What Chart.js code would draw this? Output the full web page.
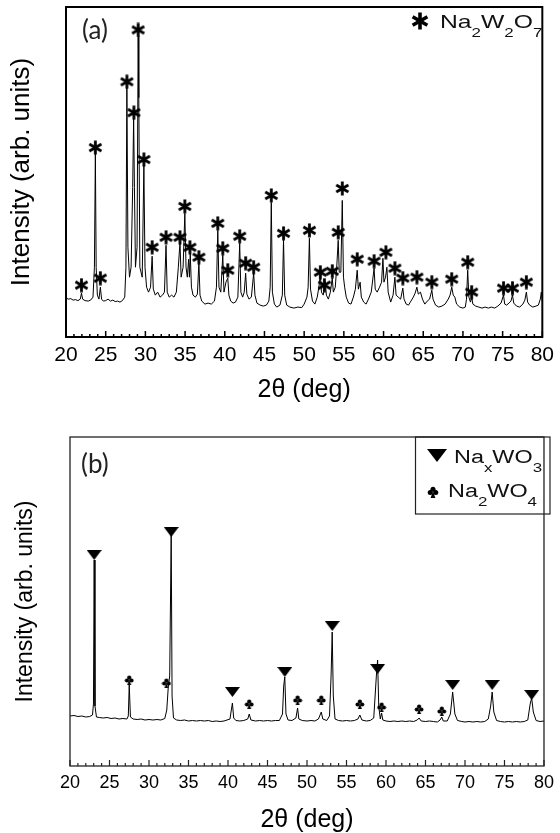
<!DOCTYPE html>
<html>
<head>
<meta charset="utf-8">
<script src="https://cdn.jsdelivr.net/npm/chart.js@4.4.1/dist/chart.umd.min.js"></script>
<style>
  body { margin: 0; background: #fff; width: 560px; height: 833px; position: relative; overflow: hidden; }
  canvas { position: absolute; left: 0; }
  #chartA { top: 0; }
  #chartB { top: 415px; }
</style>
</head>
<body>
<canvas id="chartA" width="560" height="415"></canvas>
<canvas id="chartB" width="560" height="418"></canvas>
<script>
// panel (a): Na2W2O7 pattern
const twoThetaA = [20.00, 20.30, 20.60, 20.90, 21.20, 21.50, 21.80, 21.95, 22.10, 22.40, 22.80, 23.10, 23.40, 23.58, 23.70, 23.80, 23.95, 24.15, 24.33, 24.48,
  24.70, 25.00, 25.30, 25.60, 25.90, 26.20, 26.50, 26.80, 27.10, 27.40, 27.55, 27.67, 27.80, 28.00, 28.20, 28.40, 28.52, 28.62, 28.75, 28.95,
  29.09, 29.17, 29.30, 29.60, 29.81, 29.95, 30.15, 30.40, 30.65, 30.85, 31.00, 31.25, 31.55, 31.85, 32.15, 32.40, 32.60, 32.75, 33.00, 33.30,
  33.60, 33.90, 34.15, 34.36, 34.50, 34.75, 34.97, 35.12, 35.28, 35.45, 35.55, 35.65, 35.80, 36.00, 36.30, 36.55, 36.74, 36.88, 37.10, 37.50,
  37.90, 38.30, 38.70, 38.95, 39.12, 39.27, 39.50, 39.75, 39.90, 40.15, 40.38, 40.52, 40.75, 41.05, 41.35, 41.65, 41.88, 42.03, 42.25, 42.45,
  42.63, 42.78, 43.05, 43.35, 43.64, 43.80, 44.05, 44.45, 44.85, 45.25, 45.55, 45.72, 45.86, 46.00, 46.25, 46.55, 46.95, 47.25, 47.40, 47.55,
  47.80, 48.20, 48.70, 49.20, 49.70, 50.00, 50.35, 50.50, 50.66, 50.80, 51.05, 51.35, 51.65, 51.85, 52.04, 52.18, 52.40, 52.66, 52.80, 53.05,
  53.30, 53.54, 53.68, 53.92, 54.10, 54.29, 54.42, 54.62, 54.80, 54.95, 55.10, 55.30, 55.60, 55.90, 56.20, 56.45, 56.68, 56.83, 57.05, 57.20,
  57.50, 57.80, 58.10, 58.45, 58.81, 58.95, 59.20, 59.50, 59.75, 59.92, 60.05, 60.25, 60.42, 60.58, 60.90, 61.20, 61.43, 61.58, 61.85, 62.15,
  62.43, 62.58, 62.85, 63.15, 63.45, 63.75, 63.98, 64.20, 64.38, 64.65, 64.90, 65.20, 65.50, 65.80, 66.08, 66.23, 66.55, 66.95, 67.35, 67.75,
  68.15, 68.38, 68.59, 68.78, 68.98, 69.20, 69.60, 70.00, 70.30, 70.45, 70.60, 70.75, 70.95, 71.10, 71.25, 71.60, 72.00, 72.40, 72.80, 73.20,
  73.60, 74.00, 74.40, 74.80, 75.11, 75.26, 75.50, 75.80, 76.05, 76.24, 76.40, 76.75, 77.15, 77.55, 77.80, 77.99, 78.15, 78.40, 78.80, 79.20,
  79.50, 79.75, 79.87, 80.00];
const countsA = [390, 380, 385, 370, 375, 365, 380, 440, 380, 365, 360, 370, 400, 700, 1840, 700, 420, 380, 500, 380,
  360, 365, 380, 360, 370, 355, 360, 350, 365, 400, 700, 2500, 900, 600, 700, 1500, 2190, 1500, 700, 900,
  3020, 2400, 700, 600, 1720, 700, 500, 450, 500, 810, 480, 420, 450, 400, 420, 450, 920, 450, 400, 420,
  400, 450, 700, 950, 600, 700, 1240, 700, 600, 780, 600, 840, 500, 420, 400, 430, 740, 420, 360, 330,
  340, 330, 360, 500, 1070, 500, 450, 820, 450, 550, 590, 420, 360, 340, 350, 400, 940, 450, 400, 450,
  640, 430, 380, 400, 640, 420, 340, 320, 310, 320, 360, 500, 1350, 450, 330, 300, 320, 420, 970, 420,
  320, 300, 290, 300, 295, 330, 400, 500, 990, 480, 360, 330, 400, 500, 620, 450, 420, 550, 420, 380,
  450, 590, 450, 500, 700, 970, 650, 650, 1370, 600, 500, 400, 340, 330, 400, 480, 670, 480, 550, 400,
  350, 330, 380, 450, 690, 480, 450, 500, 550, 790, 550, 600, 700, 450, 350, 420, 600, 420, 400, 380,
  490, 380, 330, 320, 360, 400, 440, 500, 430, 450, 380, 330, 360, 380, 470, 380, 320, 300, 310, 330,
  380, 420, 500, 420, 400, 330, 300, 290, 300, 380, 670, 400, 350, 400, 330, 310, 300, 290, 300, 290,
  300, 290, 310, 340, 420, 330, 320, 340, 360, 420, 340, 310, 300, 330, 370, 450, 350, 320, 300, 310,
  320, 380, 450, 360];
const starTheta = [21.95, 23.70, 24.33, 27.67, 28.55, 29.09, 29.81, 30.85, 32.60, 34.36, 34.97, 35.61, 36.74, 39.12, 39.75, 40.38, 41.88, 42.63, 43.64, 45.86,
  47.40, 50.66, 52.04, 52.55, 53.54, 54.29, 54.80, 56.68, 58.81, 60.30, 61.43, 62.43, 64.20, 66.08, 68.59, 70.60, 71.10, 75.11, 76.24, 77.99];
const starCounts = [520, 1900, 590, 2560, 2250, 3080, 1780, 900, 1000, 1000, 1310, 900, 800, 1140, 890, 670, 1010, 740, 700, 1420,
  1040, 1070, 650, 520, 660, 1050, 1490, 780, 760, 850, 690, 590, 600, 550, 580, 750, 450, 490, 490, 550];

// panel (b): NaxWO3 + Na2WO4 pattern
const twoThetaB = [20.0, 20.5, 21.0, 21.5, 22.0, 22.5, 22.85, 22.97, 23.06, 23.16, 23.35, 23.7, 24.2, 24.7, 25.2, 25.7, 26.2, 26.7, 27.2, 27.38,
  27.5, 27.65, 28.0, 28.5, 29.0, 29.5, 30.0, 30.5, 31.0, 31.5, 32.0, 32.25, 32.44, 32.62, 32.72, 32.81, 32.92, 33.1, 33.5, 34.0,
  34.5, 35.0, 35.5, 36.0, 36.5, 37.0, 37.5, 38.0, 38.5, 39.0, 39.5, 40.25, 40.42, 40.56, 40.72, 41.0, 41.5, 42.0, 42.5, 42.69,
  42.9, 43.5, 44.0, 44.5, 45.0, 45.5, 46.0, 46.5, 46.9, 47.05, 47.19, 47.34, 47.6, 48.1, 48.6, 48.81, 48.97, 49.4, 50.0, 50.5,
  51.0, 51.45, 51.81, 52.0, 52.5, 52.85, 53.05, 53.19, 53.33, 53.55, 54.0, 54.5, 55.0, 55.5, 56.0, 56.45, 56.69, 56.95, 57.5, 58.0,
  58.45, 58.78, 58.94, 59.08, 59.28, 59.44, 59.6, 60.0, 60.5, 61.0, 61.5, 62.0, 62.5, 63.0, 63.5, 63.95, 64.19, 64.45, 65.0, 65.5,
  66.0, 66.5, 66.85, 67.06, 67.25, 67.75, 68.15, 68.44, 68.72, 69.05, 69.6, 70.0, 70.5, 71.0, 71.5, 72.0, 72.5, 72.95, 73.25, 73.44,
  73.65, 74.0, 74.5, 75.0, 75.5, 76.0, 76.5, 77.0, 77.5, 77.95, 78.25, 78.44, 78.65, 79.0, 79.5, 80.0];
const countsB = [500, 505, 495, 500, 490, 495, 510, 620, 2060, 600, 490, 485, 480, 485, 475, 480, 470, 475, 470, 500,
  810, 490, 470, 465, 470, 460, 465, 460, 465, 460, 475, 560, 790, 900, 1650, 2330, 700, 480, 460, 455,
  460, 450, 455, 450, 455, 450, 455, 445, 450, 445, 450, 470, 560, 630, 480, 455, 450, 455, 470, 520,
  460, 450, 455, 450, 455, 450, 455, 455, 520, 800, 890, 520, 460, 455, 480, 580, 470, 455, 450, 455,
  450, 470, 540, 470, 455, 500, 900, 1340, 700, 470, 455, 450, 455, 450, 455, 470, 510, 460, 450, 455,
  480, 900, 1060, 600, 470, 530, 460, 450, 445, 450, 445, 450, 445, 450, 445, 460, 480, 450, 445, 450,
  445, 440, 460, 490, 450, 450, 520, 740, 520, 455, 445, 440, 445, 440, 445, 440, 445, 470, 600, 740,
  540, 455, 445, 440, 445, 440, 445, 440, 445, 460, 620, 680, 540, 455, 445, 450];
const triTheta = [23.06, 32.81, 40.56, 47.19, 53.19, 58.94, 68.44, 73.44, 78.44];
const triCounts = [2110, 2340, 740, 940, 1400, 970, 810, 810, 710];
const clubTheta = [27.5, 32.2, 42.69, 48.81, 51.81, 56.69, 59.44, 64.19, 67.06];
const clubCounts = [860, 830, 620, 660, 660, 620, 590, 570, 550];

const xTickLabels = [20, 25, 30, 35, 40, 45, 50, 55, 60, 65, 70, 75, 80];

Chart.defaults.font.family = '"Liberation Sans", Arial, sans-serif';
Chart.defaults.color = '#000';

function toPoints(xs, ys) {
  return xs.map((x, i) => ({ x: x, y: ys[i] }));
}

// marker glyphs
function makeStar(size, lw) {
  const c = document.createElement('canvas');
  c.width = c.height = size;
  const g = c.getContext('2d');
  g.strokeStyle = '#000';
  g.lineWidth = lw;
  g.translate(size / 2, size / 2);
  const r = size / 2 - 0.5;
  for (let k = 0; k < 3; k++) {
    const a = Math.PI / 2 + k * Math.PI / 3;
    g.beginPath();
    g.moveTo(Math.cos(a) * r, Math.sin(a) * r);
    g.lineTo(-Math.cos(a) * r, -Math.sin(a) * r);
    g.stroke();
  }
  return c;
}
function makeTri(w, h) {
  const c = document.createElement('canvas');
  c.width = w; c.height = h;
  const g = c.getContext('2d');
  g.fillStyle = '#000';
  g.beginPath();
  g.moveTo(0, 0); g.lineTo(w, 0); g.lineTo(w / 2, h);
  g.closePath();
  g.fill();
  return c;
}
function makeClub(s) {
  const c = document.createElement('canvas');
  c.width = c.height = s;
  const g = c.getContext('2d');
  g.fillStyle = '#000';
  const r = s * 0.21;
  [[s / 2, s * 0.27], [s * 0.27, s * 0.55], [s * 0.73, s * 0.55]].forEach(p => {
    g.beginPath(); g.arc(p[0], p[1], r, 0, Math.PI * 2); g.fill();
  });
  g.beginPath();
  g.moveTo(s / 2, s * 0.45); g.lineTo(s * 0.3, s); g.lineTo(s * 0.7, s);
  g.closePath(); g.fill();
  return c;
}
const starImg = makeStar(15, 2.8);
const starBig = makeStar(18, 3.6);
const triImg = makeTri(15, 10);
const triBig = makeTri(20, 13);
const clubImg = makeClub(10);
const clubBig = makeClub(12);

// text with subscripts, stretched a bit like the original figure
function richText(ctx, x, y, parts, size, subSize, sx) {
  ctx.save();
  ctx.translate(x, y);
  ctx.scale(sx, 1);
  ctx.fillStyle = '#111';
  ctx.textBaseline = 'alphabetic';
  let cx = 0;
  parts.forEach(p => {
    ctx.font = (p[1] ? subSize : size) + 'px "Liberation Sans", Arial, sans-serif';
    ctx.fillText(p[0], cx, p[1] ? size * 0.48 : 0);
    cx += ctx.measureText(p[0]).width;
  });
  ctx.restore();
}

const framePlugin = {
  id: 'frame',
  afterDatasetsDraw(chart, args, opts) {
    const { ctx, chartArea: a } = chart;
    const x = chart.scales.x;
    ctx.save();
    ctx.strokeStyle = opts.color;
    ctx.lineWidth = opts.width;
    ctx.strokeRect(a.left, a.top, a.right - a.left, a.bottom - a.top);
    ctx.lineWidth = opts.tickWidth;
    for (let v = x.min; v <= x.max; v++) {
      const px = x.getPixelForValue(v);
      const len = v % 5 === 0 ? opts.major : opts.minor;
      ctx.beginPath();
      ctx.moveTo(px, a.bottom);
      ctx.lineTo(px, a.bottom - len);
      ctx.stroke();
    }
    ctx.fillStyle = '#222';
    ctx.font = '26px Lato, "DejaVu Sans", sans-serif';
    ctx.textBaseline = 'middle';
    ctx.fillText(opts.label, opts.labelX, opts.labelY);
    ctx.restore();
    if (opts.legend) opts.legend(ctx);
  }
};

function xScale(tickSize, tickPad, titleSize, titleBottom, height) {
  return {
    type: 'linear',
    min: 20,
    max: 80,
    afterBuildTicks: s => { s.ticks = xTickLabels.map(v => ({ value: v })); },
    afterFit: s => { s.height = height; },
    grid: { display: false, drawTicks: false },
    border: { display: false },
    ticks: { font: { size: tickSize }, padding: tickPad, color: '#000', maxRotation: 0, autoSkip: false },
    title: { display: true, text: '2θ (deg)', font: { size: titleSize, lineHeight: 1 }, padding: { top: 0, bottom: titleBottom }, color: '#000' }
  };
}
function yScale(max, titleSize, titleLeft, width) {
  return {
    type: 'linear',
    min: 0,
    max: max,
    afterFit: s => { s.width = width; },
    grid: { display: false, drawTicks: false },
    border: { display: false },
    ticks: { display: false },
    title: { display: true, text: 'Intensity (arb. units)', font: { size: titleSize, lineHeight: 1 }, padding: { top: titleLeft, bottom: 0 }, color: '#000' }
  };
}

new Chart(document.getElementById('chartA'), {
  type: 'scatter',
  data: {
    datasets: [
      { data: toPoints(starTheta, starCounts), pointStyle: starImg, pointRadius: 6, order: 0 },
      { data: toPoints(twoThetaA, countsA), showLine: true, borderColor: '#000', borderWidth: 1, pointRadius: 0, order: 1 }
    ]
  },
  options: {
    responsive: false,
    animation: false,
    events: [],
    layout: { padding: { left: 0, right: 15, top: 6, bottom: 0 } },
    scales: {
      x: xScale(21, 6, 25, 12, 78),
      y: yScale(3310, 26, 9, 66)
    },
    plugins: {
      legend: { display: false },
      tooltip: { enabled: false },
      frame: {
        color: '#000', width: 2, tickWidth: 1.5, major: 6, minor: 3,
        label: '(a)', labelX: 82, labelY: 31,
        legend: ctx => {
          ctx.drawImage(starBig, 411, 12);
          richText(ctx, 440, 28, [['Na', 0], ['2', 1], ['W', 0], ['2', 1], ['O', 0], ['7', 1]], 19, 13, 1.3);
        }
      }
    }
  },
  plugins: [framePlugin]
});

new Chart(document.getElementById('chartB'), {
  type: 'scatter',
  data: {
    datasets: [
      { data: toPoints(triTheta, triCounts), pointStyle: triImg, pointRadius: 6, order: 0 },
      { data: toPoints(clubTheta, clubCounts), pointStyle: clubImg, pointRadius: 5, order: 0 },
      { data: toPoints(twoThetaB, countsB), showLine: true, borderColor: '#000', borderWidth: 1, pointRadius: 0, order: 1 }
    ]
  },
  options: {
    responsive: false,
    animation: false,
    events: [],
    layout: { padding: { left: 0, right: 10, top: 22, bottom: 0 } },
    scales: {
      x: xScale(18, 6, 25, 0, 67),
      y: yScale(3290, 23, 14, 70)
    },
    plugins: {
      legend: { display: false },
      tooltip: { enabled: false },
      frame: {
        color: '#222', width: 1.3, tickWidth: 1.2, major: 6, minor: 3,
        label: '(b)', labelX: 81, labelY: 50,
        legend: ctx => {
          ctx.save();
          ctx.strokeStyle = '#222';
          ctx.lineWidth = 1.2;
          ctx.strokeRect(415.5, 22, 134.5, 77);
          ctx.restore();
          ctx.drawImage(triBig, 427, 34);
          richText(ctx, 454, 48, [['Na', 0], ['x', 1], ['WO', 0], ['3', 1]], 18, 13, 1.3);
          ctx.drawImage(clubBig, 427, 71);
          richText(ctx, 448, 82, [['Na', 0], ['2', 1], ['WO', 0], ['4', 1]], 18, 13, 1.3);
        }
      }
    }
  },
  plugins: [framePlugin]
});
</script>
</body>
</html>
